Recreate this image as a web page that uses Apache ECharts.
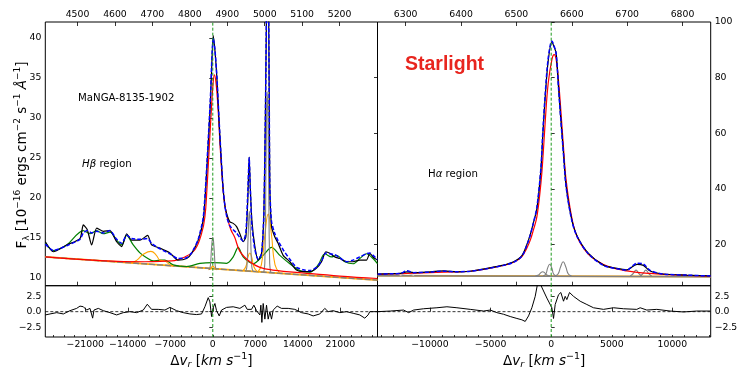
<!DOCTYPE html>
<html><head><meta charset="utf-8">
<script src="https://cdn.jsdelivr.net/npm/echarts@6/dist/echarts.min.js"></script>
<style>html,body{margin:0;padding:0;background:#fff}#c{width:756px;height:371px}</style>
</head><body><div id="c"></div>
<script>
// ---------- axis ticks ----------
const hbWaveTicks = [4500,4600,4700,4800,4900,5000,5100,5200];
const haWaveTicks = [6300,6400,6500,6600,6700,6800];
const hbVelTicks = [-21000,-14000,-7000,0,7000,14000,21000];
const haVelTicks = [-10000,-5000,0,5000,10000];
const hbFluxTicks = [10,15,20,25,30,35,40];
const haFluxTicks = [20,40,60,80,100];
const resTicks = [-2.5,0,2.5];

// ---------- H-beta region (velocity km/s, flux) ----------
const hbV = [-27587,-26270,-24065,-21875,-21332,-20674,-19950,-19127,-18040,-16938,-15834,-15012,-14188,-13366,-12000,-10733,-10075,-8709,-7063,-5745,-4313,-3490,-2403,-1580,-1185,-807,-395,-148,66,346,675,1004,1333,1662,1992,2370,2815,3358,3917,4460,5004,5448,5777,5991,6189,6436,6930,7473,8033,8411,8658,8855,9069,9283,9399,9679,10222,10765,11588,12691,13794,14880,15982,17085,17908,18616,19274,20098,20921,22023,23110,24212,25315,25859,26402,27126];
const hbObs = [14.5,13.25,14.1,14.9,16.6,16.0,14.1,16.2,15.8,15.9,14.5,13.9,15.5,14.7,14.7,15.3,14.1,13.7,13.1,12.2,12.4,13.05,14.7,17.2,21,26,32,37,40.3,38.5,35,30,25.5,21.5,19.0,17.8,17.0,16.8,16.4,15.5,14.5,15.1,20,25.1,21,17.2,13.9,12.2,13.05,18,30,44,55,34,21.4,16.4,15.1,14.3,12.8,12.0,10.96,10.75,10.75,11.2,12.0,13.25,13.05,12.6,12.4,12.0,12.0,12.2,12.2,13.05,12.6,12.2];
const hbModel = [14.2,13.4,14.0,14.8,15.6,15.9,15.6,15.8,15.6,15.9,14.8,14.3,15.3,14.9,14.8,14.9,14.3,13.6,13.0,12.4,12.5,13.1,14.8,17.5,21.5,26.5,32.5,37.5,40.0,38.6,35.2,30.2,25.6,21.5,19.0,17.4,16.5,16.0,15.6,15.0,14.6,15.6,21,25.0,21,16.5,13.5,12.3,13.0,18,30,44,55,34,21,17,15.5,14.6,13.5,12.3,11.3,11.0,10.9,11.3,12.1,13.1,13.0,12.9,12.5,12.0,12.2,12.6,13.0,13.1,12.8,12.3];
const hbBroadV = [-27587,-18580,-11176,-6782,-4592,-2946,-1844,-1300,-971,-642,-313,16,263,510,839,1169,1498,1827,2239,2568,2979,3638,4461,6107,7753,9893,15489,20921,27126];
const hbBroadF = [12.6,12.15,12.0,12.1,12.6,13.5,15.55,17.6,21,25.5,30,34,35.4,34.5,31.5,27,23,20,18,17,16,15.0,13.3,12.0,11.3,10.96,10.55,10.2,9.9];
const hbContV = [-27587,27126];
const hbContF = [12.6,9.7];
const hbFeV = [-27587,-26270,-24065,-21332,-20229,-19127,-18040,-16938,-15834,-15012,-14188,-13102,-12000,-10897,-9810,-8709,-7884,-6518,-4313,-2123,66,2271,3358,4181,5004,6650,8296,9679,11045,12691,14336,15982,17349,18452,19554,20377,21743,23110,24212,25315,26402,27126];
const hbFeF = [14.4,13.4,14.1,15.9,15.5,15.9,15.5,15.7,14.7,14.1,15.3,14.1,13.1,12.5,12.1,12.2,12.2,11.6,11.4,11.8,11.9,11.8,12.6,13.8,12.6,11.75,12.8,13.8,12.8,11.75,10.9,10.7,11.6,13.0,12.6,12.8,12.0,11.75,12.4,13.0,12.4,11.75];
const heIIV = [-13400,-12500,-11500,-10200,-9300,-8700,-7900,-7200,-6500];
const heIIF = [11.85,12.2,12.9,13.3,12.8,12.2,12.1,11.7,11.48];
const hbWingV = [-700,-350,0,350,700];
const hbWingF = [11.0,11.15,11.45,11.15,11.0];
const o3aWingV = [4950,5450,5800,6100,6400,6750,7260];
const o3aWingF = [10.85,11.4,12.6,13.1,12.6,11.4,10.8];
const o3bWingV = [7420,8000,8600,9120,9650,10250,11040];
const o3bWingF = [10.7,11.6,15.5,17.96,15.5,11.6,10.6];
const hbNarV = [-600,-400,-200,0,200,400,600];
const hbNarF = [11.0,11.5,13.8,15.05,13.8,11.5,11.0];
const o3aNarV = [5420,5620,5820,6020,6220,6420,6620];
const o3aNarF = [10.8,11.4,15.2,18.3,15.2,11.4,10.8];
const o3bNarV = [8370,8570,8770,8970,9170,9370,9570];
const o3bNarF = [10.6,11.8,24.5,33.3,24.5,11.8,10.6];
const hbResV = [-27580,-26813,-25716,-24619,-23522,-22425,-21876,-21327,-20778,-20229,-19790,-19571,-18858,-18035,-16937,-15840,-14743,-13645,-12548,-11451,-10793,-10079,-8982,-7884,-7061,-5964,-4867,-3769,-2672,-1849,-1300,-752,-477,-203,16,346,620,1059,1443,2266,3363,4461,5284,5668,6381,6765,7204,7753,7917,8082,8301,8576,8850,9124,9399,9673,9947,10605,11319,12416,13513,14611,15708,16531,17628,18451,18999,19823,20920,22017,23114,24212,25035,25584,25858,26407,27120];
const hbResF = [-0.53,-0.37,-0.16,-0.37,0.16,0.53,0.9,0.8,0.26,0.53,-1.05,0.26,0.53,0.16,-0.16,-0.53,-0.16,0,-0.16,0.26,1.2,0.37,0.37,0.26,0.69,0.16,-0.16,-0.37,-0.47,-0.37,0.79,2.27,1.58,-0.79,0.53,1.32,0.16,-0.69,0.26,0.69,0.79,0.53,1.05,0.37,0.37,1.05,0.16,-0.53,1.05,-1.74,1.32,-1.21,1.05,-1.21,0,-1.21,0.26,0.9,0.53,0.53,0.37,-0.16,-0.37,-0.69,-0.37,0.53,0,0.16,-0.16,0,-0.26,-0.53,-1.05,-0.53,0,0,0];

// ---------- H-alpha region ----------
const haV = [-14322,-13274,-12450,-11898,-11353,-9976,-8880,-7775,-6678,-5302,-3933,-3108,-2416,-2004,-1731,-1484,-1179,-849,-684,-495,-247,58,247,412,602,800,1014,1237,1707,2168,3075,4312,5417,6241,6761,7090,7610,8163,9259,11188,13167];
const haObs = [9.4,9.5,9.65,10.2,9.9,10.2,10.5,10.2,10.4,11.4,12.6,13.8,16.0,20,23.5,27.5,33,47,60,73,86,92.9,91,88.7,76.7,64.7,52.8,40.8,28.8,22.8,16.8,12.6,11.4,10.9,12.2,12.9,12.5,10.5,9.4,9.0,8.7];
const haModel = [9.3,9.5,9.6,10.6,9.9,10.1,10.4,10.2,10.4,11.3,12.5,13.6,15.8,19.8,23.3,27.5,33.5,47.5,61,74,87,93.2,91.3,88.5,76.5,64.5,52.5,40.5,28.5,22.6,16.6,12.5,11.3,10.8,12.5,13.3,13.0,10.7,9.4,9.0,8.7];
const haBroadV = [-14322,-12450,-9976,-7775,-6678,-5302,-3933,-3108,-2416,-2004,-1731,-1484,-1179,-849,-684,-495,-247,58,247,412,602,800,1014,1237,1707,2168,3075,4312,5417,6241,7090,8163,9259,11188,13167];
const haBroadF = [9.3,9.5,9.9,10.2,10.4,11.3,12.5,13.6,15.7,18.8,21.5,25,30,42,51,64,78,86.5,88.3,86.5,79,68,55,43,29.5,22.5,16.5,12.8,11.2,10.5,10.0,9.6,9.3,8.9,8.6];
const haContV = [-14322,13167];
const haContF = [8.8,8.45];
const n2aV = [-1300,-1050,-870,-700,-530,-350,-100];
const n2aF = [8.8,9.0,9.8,10.2,9.8,9.0,8.8];
const haNarV = [-670,-450,-290,-120,50,210,430];
const haNarF = [8.8,9.3,11.6,12.9,11.6,9.3,8.8];
const n2bV = [300,550,780,990,1200,1430,1680];
const n2bF = [8.8,9.3,12.0,13.8,12.0,9.3,8.8];
const s2aV = [6520,6750,7000,7250,7480];
const s2aF = [8.7,9.5,10.8,9.5,8.7];
const s2bV = [7330,7560,7810,8060,8290];
const s2bF = [8.7,9.5,10.8,9.5,8.7];
const faintV = [-12500,-12200,-11900,-11600,-11300];
const faintF = [8.8,9.3,9.8,9.3,8.8];
const haResV = [-14319,-13274,-12175,-11763,-11351,-10526,-9427,-8602,-7778,-6678,-5579,-5029,-4480,-3930,-3380,-2831,-2418,-2144,-1869,-1594,-1319,-1127,-907,-357,55,192,330,604,797,1017,1154,1292,1512,1841,2391,2941,3490,4315,5139,5964,7063,7338,7888,8712,9812,10911,12010,13110];
const haResF = [0,0.1,0.26,-0.16,0.26,0.47,0.63,0.79,0.63,0.37,0.1,0.26,-0.16,-0.42,-0.79,-1.1,-1.32,-1.58,-0.69,0.63,2.48,4.5,4.5,2.2,0.63,-1.1,1.16,2.74,3.1,1.69,2.48,1.95,3.1,2.48,1.69,1.16,0.63,0.37,0.63,0.47,0.37,0.63,0.26,0.37,0.1,-0.05,0.1,0.1];

// ---------- build ----------
const C = 299792.458;
const HB0 = 4861.33, HA0 = 6562.8;
const HB_VMIN = -27590, HB_VMAX = 27130, HA_VMIN = -14330, HA_VMAX = 13160;
const HB_FMIN = 9, HB_FMAX = 42, HA_FMIN = 5.2, HA_FMAX = 100, RES_MIN = -4.1, RES_MAX = 4.2;
const FONT = 'DejaVu Sans';
const zip = (a, b) => a.map((v, i) => [v, b[i]]);
const minus = s => String(s).replace('-', '\u2212');
const range = (a, b, s) => { const r = []; for (let v = a; v <= b; v += s) r.push(v); return r; };

const lab = (vals, fmt, extra) => Object.assign({ show: true, customValues: vals, formatter: fmt || (v => minus(v)), fontFamily: FONT, fontSize: 9.3, color: '#000', margin: 4 }, extra || {});
const tick = (vals, len, inside) => ({ show: true, customValues: vals, inside: inside, length: len, lineStyle: { color: '#000', width: 0.8 } });
const off = { show: false };

const grids = [
  { left: 45.3, top: 22, width: 332.2, height: 263.7 },
  { left: 45.3, top: 285.7, width: 332.2, height: 52.6 },
  { left: 377.5, top: 22, width: 333.2, height: 263.7 },
  { left: 377.5, top: 285.7, width: 333.2, height: 52.6 }
].map(g => Object.assign(g, { show: true, borderColor: '#000', borderWidth: 1, backgroundColor: 'transparent' }));

const xName = {
  name: '{n|\u0394}{i|v}{sub|r}{n| [}{i|km s}{sup|\u22121}{n|]}', nameLocation: 'middle', nameGap: 15,
  nameTextStyle: { rich: {
    n: { fontFamily: FONT, fontSize: 13.5, lineHeight: 18, color: '#000' },
    i: { fontFamily: FONT, fontSize: 13.5, fontStyle: 'italic', lineHeight: 18, color: '#000' },
    sub: { fontFamily: FONT, fontSize: 9.5, fontStyle: 'italic', verticalAlign: 'bottom', lineHeight: 12, color: '#000' },
    sup: { fontFamily: FONT, fontSize: 9.5, verticalAlign: 'top', lineHeight: 12, color: '#000' }
  } }
};

const xAxis = [
  { gridIndex: 0, type: 'value', min: HB_VMIN, max: HB_VMAX, show: false },
  { gridIndex: 0, type: 'value', position: 'top', min: HB0 * (1 + HB_VMIN / C), max: HB0 * (1 + HB_VMAX / C), axisLine: off, splitLine: off, axisTick: tick(hbWaveTicks, 4, true), axisLabel: lab(hbWaveTicks, v => String(v), { margin: 3 }) },
  { gridIndex: 0, type: 'value', position: 'bottom', min: HB0 * (1 + HB_VMIN / C), max: HB0 * (1 + HB_VMAX / C), axisLine: off, splitLine: off, axisTick: tick(hbWaveTicks, 4, true), axisLabel: off },
  Object.assign({ gridIndex: 1, type: 'value', position: 'bottom', min: HB_VMIN, max: HB_VMAX, axisLine: off, splitLine: off, axisTick: tick(hbVelTicks, 4, true), axisLabel: lab(hbVelTicks, null, { margin: 3 }) }, xName),
  { gridIndex: 1, type: 'value', position: 'bottom', min: HB_VMIN, max: HB_VMAX, axisLine: off, splitLine: off, axisTick: tick(range(-26250, 26250, 1750), 2, true), axisLabel: off },
  { gridIndex: 2, type: 'value', min: HA_VMIN, max: HA_VMAX, show: false },
  { gridIndex: 2, type: 'value', position: 'top', min: HA0 * (1 + HA_VMIN / C), max: HA0 * (1 + HA_VMAX / C), axisLine: off, splitLine: off, axisTick: tick(haWaveTicks, 4, true), axisLabel: lab(haWaveTicks, v => String(v), { margin: 3 }) },
  { gridIndex: 2, type: 'value', position: 'bottom', min: HA0 * (1 + HA_VMIN / C), max: HA0 * (1 + HA_VMAX / C), axisLine: off, splitLine: off, axisTick: tick(haWaveTicks, 4, true), axisLabel: off },
  Object.assign({ gridIndex: 3, type: 'value', position: 'bottom', min: HA_VMIN, max: HA_VMAX, axisLine: off, splitLine: off, axisTick: tick(haVelTicks, 4, true), axisLabel: lab(haVelTicks, null, { margin: 3 }) }, xName),
  { gridIndex: 3, type: 'value', position: 'bottom', min: HA_VMIN, max: HA_VMAX, axisLine: off, splitLine: off, axisTick: tick(range(-14000, 13000, 1000), 2, true), axisLabel: off }
];

const resFmt = v => minus(v.toFixed(1));
const yAxis = [
  { gridIndex: 0, type: 'value', position: 'left', min: HB_FMIN, max: HB_FMAX, axisLine: off, splitLine: off, axisTick: tick(hbFluxTicks, 3.5, false), axisLabel: lab(hbFluxTicks) },
  { gridIndex: 1, type: 'value', position: 'left', min: RES_MIN, max: RES_MAX, axisLine: off, splitLine: off, axisTick: tick(resTicks, 3.5, false), axisLabel: lab(resTicks, resFmt) },
  { gridIndex: 2, type: 'value', position: 'right', min: HA_FMIN, max: HA_FMAX, axisLine: off, splitLine: off, axisTick: tick(haFluxTicks, 3.5, false), axisLabel: lab(haFluxTicks) },
  { gridIndex: 2, type: 'value', position: 'left', min: HA_FMIN, max: HA_FMAX, axisLine: off, splitLine: off, axisTick: tick([20, 40, 60, 80], 3.5, false), axisLabel: off },
  { gridIndex: 3, type: 'value', position: 'right', min: RES_MIN, max: RES_MAX, axisLine: off, splitLine: off, axisTick: tick(resTicks, 3.5, false), axisLabel: lab(resTicks, resFmt) }
];

function line(xi, yi, V, F, color, width, extra) {
  return Object.assign({ type: 'line', xAxisIndex: xi, yAxisIndex: yi, data: zip(V, F), symbol: 'none', smooth: 0.3, silent: true, animation: false,
    lineStyle: { color: color, width: width } }, extra || {});
}
const GREENDASH = { color: '#1e9a1e', width: 1, type: [3, 2] };
const BLACKDASH = { color: '#000', width: 0.8, type: [3, 2] };
const ref = (xi, yi, V, F, style) => line(xi, yi, V, F, style.color, style.width, { smooth: false, lineStyle: style, z: 5 });

const GRAY = '#808080', ORANGE = '#ffa500', GREEN = '#008000', RED = '#ff0000', BLUE = '#0000ff';
const series = [
  // H-beta main
  line(0, 0, hbContV, hbContF, ORANGE, 1.8, { smooth: false }),
  line(0, 0, hbContV, hbContF, GRAY, 1.4, { smooth: false, lineStyle: { color: GRAY, width: 1.4, type: [6, 2] } }),
  line(0, 0, hbFeV, hbFeF, GREEN, 1.2),
  line(0, 0, heIIV, heIIF, ORANGE, 1.1, { smooth: 0.5 }),
  line(0, 0, hbWingV, hbWingF, ORANGE, 1.1, { smooth: 0.5 }),
  line(0, 0, o3aWingV, o3aWingF, ORANGE, 1.1, { smooth: 0.5 }),
  line(0, 0, o3bWingV, o3bWingF, ORANGE, 1.1, { smooth: 0.5 }),
  line(0, 0, hbNarV, hbNarF, GRAY, 1.1, { smooth: 0.5 }),
  line(0, 0, o3aNarV, o3aNarF, GRAY, 1.1, { smooth: 0.5 }),
  line(0, 0, o3bNarV, o3bNarF, GRAY, 1.1, { smooth: 0.5 }),
  line(0, 0, hbBroadV, hbBroadF, RED, 1.2, { smooth: 0.4 }),
  line(0, 0, hbV, hbObs, '#000', 1.2, { smooth: 0.2 }),
  line(0, 0, hbV, hbModel, BLUE, 1.5, { smooth: 0.2, lineStyle: { color: BLUE, width: 1.5, type: [4, 2] } }),
  ref(0, 0, [0, 0], [HB_FMIN, HB_FMAX], GREENDASH),
  // H-beta residual
  ref(4, 1, [HB_VMIN, HB_VMAX], [0, 0], BLACKDASH),
  line(4, 1, hbResV, hbResF, '#000', 1, { smooth: false }),
  ref(4, 1, [0, 0], [RES_MIN, RES_MAX], GREENDASH),
  // H-alpha main
  line(5, 2, haContV, haContF, ORANGE, 1.8, { smooth: false }),
  line(5, 2, haContV, haContF, GRAY, 1.5, { smooth: false }),
  line(5, 2, faintV, faintF, '#c8c8c8', 1, { smooth: 0.5 }),
  line(5, 2, n2aV, n2aF, GRAY, 1.1, { smooth: 0.5 }),
  line(5, 2, haNarV, haNarF, GRAY, 1.1, { smooth: 0.5 }),
  line(5, 2, n2bV, n2bF, GRAY, 1.1, { smooth: 0.5 }),
  line(5, 2, s2aV, s2aF, GRAY, 1.1, { smooth: 0.5 }),
  line(5, 2, s2bV, s2bF, GRAY, 1.1, { smooth: 0.5 }),
  line(5, 2, haBroadV, haBroadF, RED, 1.2, { smooth: 0.4 }),
  line(5, 2, haV, haObs, '#000', 1.2, { smooth: 0.3 }),
  line(5, 2, haV, haModel, BLUE, 1.5, { smooth: 0.3, lineStyle: { color: BLUE, width: 1.5, type: [4, 2] } }),
  ref(5, 2, [0, 0], [HA_FMIN, HA_FMAX], GREENDASH),
  // H-alpha residual
  ref(9, 4, [HA_VMIN, HA_VMAX], [0, 0], BLACKDASH),
  line(9, 4, haResV, haResF, '#000', 1, { smooth: false }),
  ref(9, 4, [0, 0], [RES_MIN, RES_MAX], GREENDASH)
];

const yTitleRich = {
  n: { fontFamily: FONT, fontSize: 13.5, lineHeight: 18, fill: '#000' },
  i: { fontFamily: FONT, fontSize: 13.5, fontStyle: 'italic', lineHeight: 18, fill: '#000' },
  sub: { fontFamily: FONT, fontSize: 9, verticalAlign: 'bottom', lineHeight: 12, fill: '#000' },
  sup: { fontFamily: FONT, fontSize: 9, verticalAlign: 'top', lineHeight: 12, fill: '#000' }
};
const graphic = [
  { type: 'text', x: 22, y: 155, rotation: Math.PI / 2, silent: true, style: {
      text: '{n|F}{sub|\u03bb}{n| [10}{sup|\u221216}{n| ergs cm}{sup|\u22122}{n| s}{sup|\u22121}{i| \u00c5}{sup|\u22121}{n|]}',
      rich: yTitleRich, align: 'center', verticalAlign: 'middle' } },
  { type: 'text', left: 78, top: 93, silent: true, style: { text: 'MaNGA-8135-1902', fontFamily: FONT, fontSize: 10.2, fill: '#000' } },
  { type: 'text', left: 82, top: 159, silent: true, style: { text: '{i|H\u03b2}{n| region}', rich: {
      i: { fontFamily: FONT, fontSize: 10.2, fontStyle: 'italic', fill: '#000' }, n: { fontFamily: FONT, fontSize: 10.2, fill: '#000' } } } },
  { type: 'text', left: 428, top: 169, silent: true, style: { text: '{n|H}{i|\u03b1}{n| region}', rich: {
      i: { fontFamily: FONT, fontSize: 10.2, fontStyle: 'italic', fill: '#000' }, n: { fontFamily: FONT, fontSize: 10.2, fill: '#000' } } } },
  { type: 'text', left: 405, top: 55, silent: true, style: { text: 'Starlight', fontFamily: 'Liberation Sans', fontWeight: 'bold', fontSize: 19.5, fill: '#e8251e' } }
];

const chart = echarts.init(document.getElementById('c'), null, { renderer: 'canvas' });
chart.setOption({ animation: false, backgroundColor: '#fff', grid: grids, xAxis: xAxis, yAxis: yAxis, series: series, graphic: graphic });
</script></body></html>
